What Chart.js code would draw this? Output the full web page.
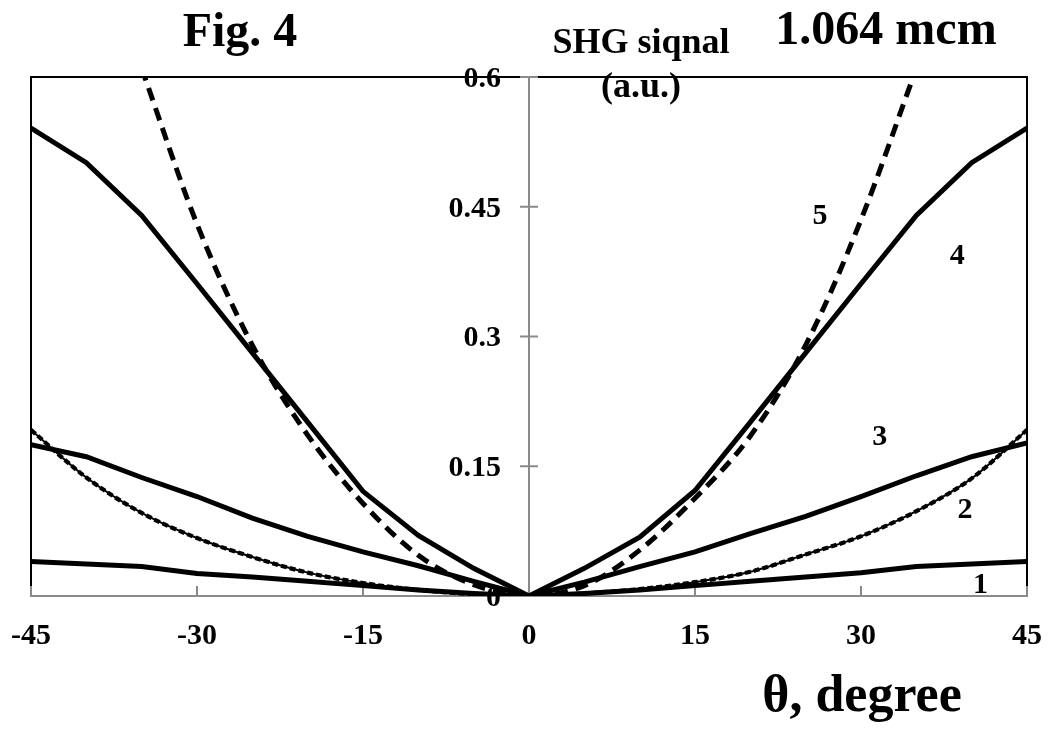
<!DOCTYPE html>
<html>
<head>
<meta charset="utf-8">
<script src="https://cdn.jsdelivr.net/npm/chart.js@4.4.0/dist/chart.umd.min.js"></script>
<style>
  html, body { margin: 0; padding: 0; background: #fff; }
  #wrap { width: 1048px; height: 731px; }
</style>
</head>
<body>
<div id="wrap"><canvas id="chartSHG" width="1048" height="731"></canvas></div>
<script>
// angles (degree) and SHG signal values
const angles = [-45, -40, -35, -30, -25, -20, -15, -10, -5, 0, 5, 10, 15, 20, 25, 30, 35, 40, 45];
const curve1 = [0.040, 0.037, 0.034, 0.026, 0.022, 0.017, 0.012, 0.007, 0.003, 0, 0.003, 0.007, 0.012, 0.017, 0.022, 0.027, 0.034, 0.037, 0.040];
const curve2 = [0.192, 0.137, 0.096, 0.067, 0.045, 0.027, 0.015, 0.007, 0.002, 0, 0.003, 0.008, 0.016, 0.028, 0.048, 0.069, 0.098, 0.136, 0.192];
const curve3 = [0.175, 0.161, 0.137, 0.115, 0.090, 0.069, 0.051, 0.035, 0.017, 0, 0.016, 0.034, 0.051, 0.072, 0.092, 0.115, 0.139, 0.161, 0.177];
const curve4 = [0.541, 0.501, 0.440, 0.361, 0.281, 0.201, 0.121, 0.070, 0.032, 0, 0.032, 0.068, 0.122, 0.201, 0.281, 0.361, 0.440, 0.501, 0.541];
// curve 5 leaves the plot above 0.6, so only the inner angles
const angles5 = [-35, -30, -25, -20, -15, -10, -5, 0, 5, 10, 15, 20, 25, 30, 35];
const curve5 = [0.61, 0.43, 0.29, 0.186, 0.107, 0.047, 0.013, 0, 0.012, 0.053, 0.113, 0.185, 0.29, 0.435, 0.61];

const xTicks = [-45, -30, -15, 0, 15, 30, 45];
const xTickLabels = ['-45', '-30', '-15', '0', '15', '30', '45'];
const yTicks = [0, 0.15, 0.3, 0.45, 0.6];
const yTickLabels = ['0', '0.15', '0.3', '0.45', '0.6'];

// curve numbers, placed in data units
const curveNames = ['1', '2', '3', '4', '5'];
const nameAt = [[40.8, 0.013], [39.4, 0.099], [31.7, 0.183], [38.7, 0.393], [26.3, 0.439]];

const FONT = '"Liberation Serif", "Times New Roman", serif';
const GREY = '#8a8a8a';

function pontos(xs, ys) {
  return xs.map(function (v, i) { return { x: v, y: ys[i] }; });
}

// frame (black top/left/right), small grey tick marks, y labels beside the centre axis
const moldura = {
  id: 'moldura',
  beforeDatasetsDraw(chart) {
    const { ctx, chartArea: a, scales: { x, y } } = chart;
    ctx.save();
    ctx.strokeStyle = '#000';
    ctx.lineWidth = 2;
    ctx.beginPath();
    ctx.moveTo(a.left, a.bottom);
    ctx.lineTo(a.left, a.top);
    ctx.lineTo(a.right, a.top);
    ctx.lineTo(a.right, a.bottom);
    ctx.stroke();

    ctx.strokeStyle = GREY;
    ctx.beginPath();
    xTicks.forEach(function (v) {
      const px = x.getPixelForValue(v);
      ctx.moveTo(px, a.bottom);
      ctx.lineTo(px, a.bottom - 10);
    });
    const x0 = x.getPixelForValue(0);
    yTicks.forEach(function (v) {
      const py = y.getPixelForValue(v);
      ctx.moveTo(x0 - 9, py);
      ctx.lineTo(x0 + 9, py);
    });
    ctx.stroke();

    // y tick labels (Chart.js ignores tick padding on a centred axis)
    ctx.fillStyle = '#000';
    ctx.font = 'bold 30px ' + FONT;
    ctx.textAlign = 'right';
    ctx.textBaseline = 'middle';
    yTicks.forEach(function (v, i) {
      ctx.fillText(yTickLabels[i], x0 - 28, y.getPixelForValue(v) + 2);
    });
    ctx.restore();
  }
};

const textos = {
  id: 'textos',
  afterDraw(chart) {
    const { ctx, scales: { x, y } } = chart;
    ctx.save();
    ctx.fillStyle = '#000';
    ctx.textAlign = 'center';
    ctx.textBaseline = 'alphabetic';
    ctx.font = 'bold 48px ' + FONT;
    ctx.fillText('Fig. 4', 240, 46);
    ctx.fillText('1.064 mcm', 886, 44);
    ctx.font = 'bold 36px ' + FONT;
    ctx.fillText('SHG siqnal', 641, 53);
    ctx.fillText('(a.u.)', 641, 97);
    ctx.font = 'bold 52px ' + FONT;
    ctx.fillText('\u03B8, degree', 862, 711);

    ctx.font = 'bold 30px ' + FONT;
    ctx.textBaseline = 'middle';
    curveNames.forEach(function (n, i) {
      ctx.fillText(n, x.getPixelForValue(nameAt[i][0]), y.getPixelForValue(nameAt[i][1]));
    });
    ctx.restore();
  }
};

const solida = { borderColor: '#000', borderWidth: 5, pointRadius: 0, fill: false, tension: 0 };

const dados = {
  datasets: [
    Object.assign({ label: '1', data: pontos(angles, curve1) }, solida),
    { label: '2', data: pontos(angles, curve2), borderColor: '#000', borderWidth: 4.2, borderDash: [6, 3],
      pointRadius: 0, fill: false, cubicInterpolationMode: 'monotone' },
    { label: '2b', data: pontos(angles, curve2), borderColor: '#000', borderWidth: 2,
      pointRadius: 0, fill: false, cubicInterpolationMode: 'monotone' },
    Object.assign({ label: '3', data: pontos(angles, curve3) }, solida),
    Object.assign({ label: '4', data: pontos(angles, curve4) }, solida),
    { label: '5', data: pontos(angles5, curve5), borderColor: '#000', borderWidth: 5, borderDash: [13, 8],
      pointRadius: 0, fill: false, cubicInterpolationMode: 'monotone' }
  ]
};

const config = {
  type: 'line',
  data: dados,
  options: {
    responsive: false,
    animation: false,
    devicePixelRatio: 1,
    layout: { padding: { left: 31, right: 21, top: 77, bottom: 55 } },
    plugins: { legend: { display: false }, tooltip: { enabled: false } },
    scales: {
      x: {
        type: 'linear',
        min: -45,
        max: 45,
        afterBuildTicks: function (s) { s.ticks = xTicks.map(function (v) { return { value: v }; }); },
        ticks: {
          autoSkip: false,
          maxRotation: 0,
          padding: 0,
          color: '#000',
          // tall line box pushes the labels down without adding side padding
          font: { family: FONT, size: 30, weight: 'bold', lineHeight: '80px' },
          callback: function (v) { return xTickLabels[xTicks.indexOf(v)]; }
        },
        grid: { display: false, drawTicks: false },
        border: { color: GREY, width: 2 }
      },
      y: {
        type: 'linear',
        min: 0,
        max: 0.6,
        position: { x: 0 },
        afterBuildTicks: function (s) { s.ticks = yTicks.map(function (v) { return { value: v }; }); },
        ticks: { display: false },
        grid: { display: false, drawTicks: false },
        border: { color: GREY, width: 2 }
      }
    }
  },
  plugins: [moldura, textos]
};

let chartSHG = new Chart(document.getElementById('chartSHG'), config);
</script>
</body>
</html>
